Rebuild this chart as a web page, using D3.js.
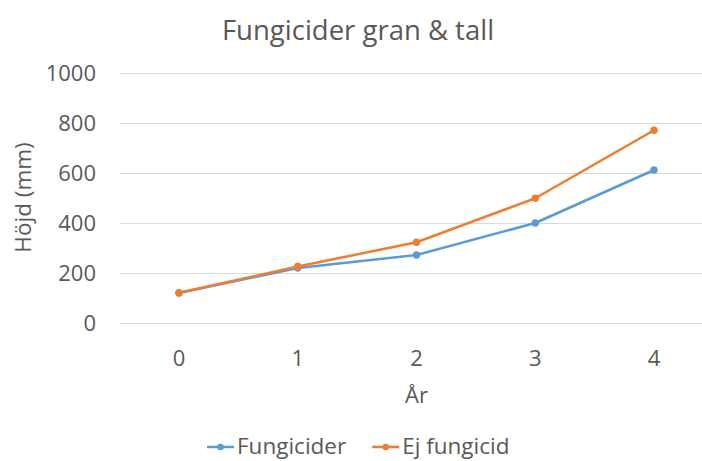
<!DOCTYPE html>
<html>
<head>
<meta charset="utf-8" />
<title>Fungicider gran & tall | D3</title>
<style>
body {
  margin: 0;
  background: white;
  font-family: "Open Sans", sans-serif;
}
svg text {
  fill: #595959;
}
</style>
<script src="https://d3js.org/d3.v7.min.js"></script>
</head>
<body>
<script>
// data
var years = [0, 1, 2, 3, 4];
var fungicider = [120, 220, 272, 400, 612];
var ejFungicid = [121, 226, 323, 499, 771];
var yTicks = [0, 200, 400, 600, 800, 1000];
var seriesNames = ["Fungicider", "Ej fungicid"];
var seriesColors = ["#5B9BD5", "#ED7D31"];

var width = 702;
var height = 461;

var svg = d3.select("body")
  .append("svg")
  .attr("width", width)
  .attr("height", height);

// plot area (right edge runs a little past the window, like the original)
var x = d3.scaleBand().domain(years).range([119.6, 713.4]);
var y = d3.scaleLinear().domain([0, 1000]).range([323, 73]);

// gridlines
svg.append("g")
  .selectAll("line")
  .data(yTicks)
  .enter().append("line")
  .attr("x1", 119.6)
  .attr("x2", 713.4)
  .attr("y1", function(d){ return y(d) + 0.5; })
  .attr("y2", function(d){ return y(d) + 0.5; })
  .attr("stroke", "#D9D9D9")
  .attr("stroke-width", 1);

// y tick labels
svg.append("g")
  .selectAll("text")
  .data(yTicks)
  .enter().append("text")
  .attr("x", 96)
  .attr("y", function(d){ return y(d); })
  .attr("dy", "0.35em")
  .attr("text-anchor", "end")
  .style("font-size", "22px")
  .text(function(d){ return d; });

// x tick labels
svg.append("g")
  .selectAll("text")
  .data(years)
  .enter().append("text")
  .attr("x", function(d){ return x(d) + x.bandwidth() / 2; })
  .attr("y", 366)
  .attr("text-anchor", "middle")
  .style("font-size", "22px")
  .text(function(d){ return d; });

// title + axis titles
svg.append("text")
  .attr("x", 358)
  .attr("y", 40)
  .attr("text-anchor", "middle")
  .style("font-size", "27.5px")
  .text("Fungicider gran & tall");

svg.append("text")
  .attr("x", 416.5)
  .attr("y", 403)
  .attr("text-anchor", "middle")
  .style("font-size", "22px")
  .text("År");

svg.append("text")
  .attr("transform", "translate(23,197.5) rotate(-90)")
  .attr("dy", "0.35em")
  .attr("text-anchor", "middle")
  .style("font-size", "22.5px")
  .text("Höjd (mm)");

// series lines
var line = d3.line()
  .x(function(d, i){ return x(years[i]) + x.bandwidth() / 2; })
  .y(function(d){ return y(d); });

var series = [fungicider, ejFungicid];

series.forEach(function(vals, s){
  var g = svg.append("g");
  g.append("path")
    .datum(vals)
    .attr("fill", "none")
    .attr("stroke", seriesColors[s])
    .attr("stroke-width", 2.5)
    .attr("stroke-linejoin", "round")
    .attr("d", line);
  g.selectAll("circle")
    .data(vals)
    .enter().append("circle")
    .attr("cx", function(d, i){ return x(years[i]) + x.bandwidth() / 2; })
    .attr("cy", function(d){ return y(d); })
    .attr("r", 3.7)
    .attr("fill", seriesColors[s]);
});

// legend
var legend = svg.append("g");
var lx = 207;
seriesNames.forEach(function(name, s){
  var item = legend.append("g").attr("transform", "translate(" + lx + ",447)");
  item.append("line")
    .attr("x1", 0).attr("x2", 27)
    .attr("stroke", seriesColors[s])
    .attr("stroke-width", 2.5);
  item.append("circle")
    .attr("cx", 13.5).attr("r", 3.2)
    .attr("fill", seriesColors[s]);
  var t = item.append("text")
    .attr("x", 30)
    .attr("y", 6.5)
    .style("font-size", "22.5px")
    .text(name);
  lx += 30 + t.node().getComputedTextLength() + 26;
});
</script>
</body>
</html>
